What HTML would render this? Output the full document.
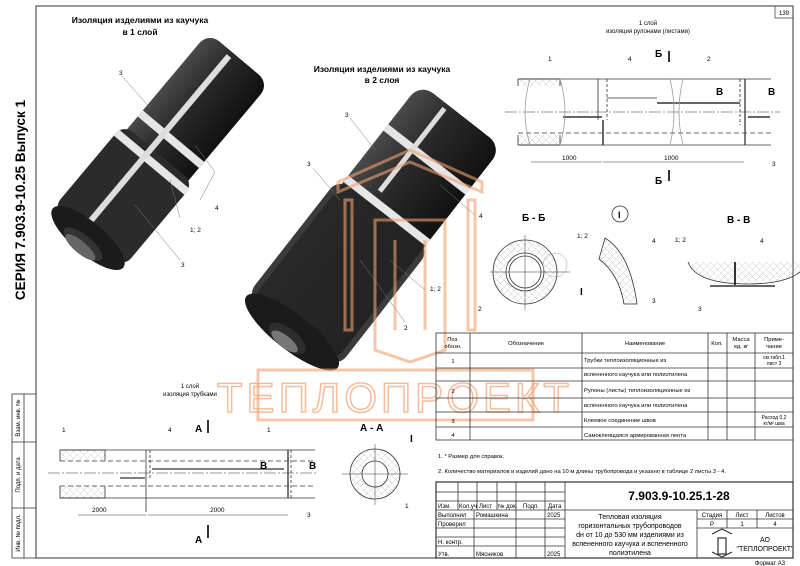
<!DOCTYPE html>
<html><head><meta charset="utf-8"><style>
html,body{margin:0;padding:0;background:#fff}
svg{display:block;font-family:"Liberation Sans",sans-serif}
</style></head><body>
<svg width="800" height="566" viewBox="0 0 800 566" xmlns="http://www.w3.org/2000/svg">
<defs>
<pattern id="h" width="7" height="7" patternUnits="userSpaceOnUse"><path d="M0 0L7 7M7 0L0 7" stroke="#bbb" stroke-width="0.4"/></pattern>
<linearGradient id="g1" x1="0" y1="0" x2="0" y2="1"><stop offset="0" stop-color="#4a4a4a"/><stop offset="0.4" stop-color="#2a2a2a"/><stop offset="1" stop-color="#111"/></linearGradient>
</defs>
<rect width="800" height="566" fill="#fff"/>
<rect x="36" y="6" width="757" height="552" fill="none" stroke="#333" stroke-width="1"/>
<rect x="775" y="6" width="18" height="12" fill="none" stroke="#333" stroke-width="0.7"/>
<text x="784" y="15" font-size="6" text-anchor="middle">139</text>
<text transform="translate(25,200) rotate(-90)" font-size="13.5" font-weight="bold" text-anchor="middle">СЕРИЯ 7.903.9-10.25 Выпуск 1</text>
<g stroke="#333" stroke-width="0.8" fill="none">
<rect x="12" y="394" width="24" height="164"/>
<line x1="24" y1="394" x2="24" y2="558"/>
<line x1="12" y1="442" x2="36" y2="442"/>
<line x1="12" y1="508" x2="36" y2="508"/>
</g>
<g font-size="6">
<text transform="translate(20,418) rotate(-90)" text-anchor="middle">Взам. инв. №</text>
<text transform="translate(20,475) rotate(-90)" text-anchor="middle">Подп. и дата</text>
<text transform="translate(20,533) rotate(-90)" text-anchor="middle">Инв. № подл.</text>
</g>

<text x="140" y="23" font-size="8.5" font-weight="bold" text-anchor="middle">Изоляция изделиями из каучука</text>
<text x="140" y="35" font-size="8.5" font-weight="bold" text-anchor="middle">в 1 слой</text>
<g transform="translate(88,238) rotate(-50)">
<rect x="0" y="-40" width="235" height="80" rx="14" fill="url(#g1)"/>
<rect x="0" y="-46" width="110" height="92" rx="12" fill="#2b2b2b"/>
<rect x="125" y="-40" width="8" height="80" fill="#e6e6e6"/>
<rect x="95" y="-46" width="8" height="92" fill="#e6e6e6"/>
<rect x="10" y="-12" width="220" height="6" fill="#ddd"/>
<ellipse cx="0" cy="0" rx="16" ry="46" fill="#1b1b1b"/>
<ellipse cx="-8" cy="0" rx="9" ry="24" fill="#333"/>
<ellipse cx="-12" cy="0" rx="6" ry="19" fill="#666"/>
</g>
<g stroke="#777" stroke-width="0.5" fill="none">
<path d="M122 76 L150 108"/><path d="M215 172 L195 145 M215 172 L200 200"/>
<path d="M180 218 L170 180"/><path d="M180 260 L135 205"/>
</g>
<g font-size="6.5"><text x="119" y="75">3</text><text x="215" y="210">4</text><text x="190" y="232">1; 2</text><text x="181" y="267">3</text></g>

<text x="382" y="72" font-size="8.5" font-weight="bold" text-anchor="middle">Изоляция изделиями из каучука</text>
<text x="382" y="83" font-size="8.5" font-weight="bold" text-anchor="middle">в 2 слоя</text>
<g transform="translate(292,332) rotate(-52)">
<rect x="0" y="-52" width="275" height="104" rx="16" fill="url(#g1)"/>
<rect x="0" y="-58" width="150" height="116" rx="14" fill="#262626" opacity="0.9"/>
<rect x="150" y="-52" width="8" height="104" fill="#e6e6e6"/>
<rect x="215" y="-52" width="8" height="104" fill="#e6e6e6"/>
<rect x="165" y="-20" width="105" height="5" fill="#ddd"/>
<ellipse cx="0" cy="0" rx="18" ry="58" fill="#1b1b1b"/>
<ellipse cx="-8" cy="0" rx="10" ry="22" fill="#2e2e2e"/>
<ellipse cx="-12" cy="0" rx="6" ry="16" fill="#777"/>
</g>
<g stroke="#777" stroke-width="0.5" fill="none">
<path d="M350 118 L375 150"/><path d="M313 168 L340 200"/><path d="M475 215 L440 185"/>
<path d="M425 290 L390 260"/><path d="M405 322 L360 260"/>
</g>
<g font-size="6.5"><text x="345" y="117">3</text><text x="307" y="166">3</text><text x="479" y="218">4</text><text x="430" y="291">1; 2</text><text x="404" y="330">2</text></g>

<g stroke="#f0a070" fill="none" stroke-width="3" opacity="0.6">
<path d="M338 182 L410 150 L482 182 L482 192 L410 162 L338 192 Z"/>
<path d="M345 200 L345 330 L352 330 L352 200 Z M468 200 L468 330 L475 330 L475 200 Z"/>
<path d="M375 220 L445 220 L445 350 L410 362 L375 350 Z"/>
<path d="M395 240 L395 330 M425 240 L425 330"/>
<rect x="258" y="370" width="275" height="50" stroke-width="3"/>
</g>
<text x="395" y="412" font-size="42" fill="none" stroke="#f0a070" stroke-width="1.5" text-anchor="middle" letter-spacing="4" opacity="0.7">ТЕПЛОПРОЕКТ</text>

<text x="648" y="25" font-size="6" text-anchor="middle">1 слой</text>
<text x="648" y="33" font-size="6" text-anchor="middle">изоляция рулонами (листами)</text>
<g stroke="#333" fill="none" stroke-width="0.8">
<rect x="518" y="79" width="42" height="66" fill="url(#h)"/>
<rect x="512" y="86" width="55" height="49" fill="#fff" stroke="none"/>
<line x1="518" y1="79" x2="771" y2="79"/><line x1="518" y1="145" x2="771" y2="145"/>
<line x1="518" y1="133" x2="771" y2="133" stroke-dasharray="5,3"/>
<line x1="505" y1="112" x2="780" y2="112" stroke-dasharray="12,2,2,2" stroke-width="0.5"/>
<line x1="598" y1="79" x2="598" y2="120"/><line x1="603" y1="120" x2="603" y2="145" stroke-width="1.5"/><line x1="607" y1="79" x2="607" y2="120" stroke-dasharray="3,2"/>
<line x1="745" y1="79" x2="745" y2="145" stroke-width="1.3"/><line x1="740" y1="79" x2="740" y2="125" stroke-dasharray="3,2"/>
<line x1="607" y1="98" x2="657" y2="98"/><line x1="657" y1="103" x2="740" y2="103" stroke-width="1.5"/>
<line x1="563" y1="117" x2="602" y2="117" stroke-width="1.5"/><line x1="748" y1="117" x2="770" y2="117" stroke-width="1.5"/>
<line x1="531" y1="162" x2="602" y2="162" stroke-width="0.5"/><line x1="603" y1="162" x2="744" y2="162" stroke-width="0.5"/>
<path d="M670 79 q8 33 0 66" stroke="#999"/><path d="M683 79 q-8 33 0 66" stroke="#999"/>
<path d="M530 79 q-10 33 0 66" stroke="#999"/><path d="M560 79 q10 33 0 66" stroke="#999"/>
<line x1="669" y1="51" x2="669" y2="62" stroke-width="2"/><line x1="669" y1="170" x2="669" y2="181" stroke-width="2"/>
</g>
<g font-size="6.5"><text x="548" y="61">1</text><text x="628" y="61">4</text><text x="707" y="61">2</text><text x="562" y="160">1000</text><text x="664" y="160">1000</text><text x="772" y="166">3</text></g>
<g font-size="10" font-weight="bold"><text x="655" y="57">Б</text><text x="655" y="184">Б</text><text x="716" y="95">В</text><text x="768" y="95">В</text>
<text x="522" y="221">Б - Б</text><text x="727" y="223">В - В</text></g>
<g stroke="#333" fill="none" stroke-width="0.8">
<circle cx="525" cy="272" r="32" fill="url(#h)"/>
<circle cx="525" cy="272" r="19" fill="#fff"/><circle cx="525" cy="272" r="16"/>
<line x1="490" y1="272" x2="570" y2="272" stroke-width="0.5"/><line x1="525" y1="235" x2="525" y2="310" stroke-width="0.5"/>
<circle cx="555" cy="265" r="12" stroke="#999" stroke-width="0.5"/>
<circle cx="620" cy="214" r="8"/>
<path d="M605 238 q25 15 32 66 l-13 0 q-5 -30 -25 -45 Z" fill="url(#h)"/>
<path d="M688 262 q8 22 60 22 q50 0 60 -22" fill="url(#h)"/>
<line x1="735" y1="262" x2="735" y2="285" stroke-width="2"/>
<line x1="710" y1="286" x2="775" y2="286" stroke-width="1.5"/>
</g>
<g font-size="6.5"><text x="577" y="238">1; 2</text><text x="652" y="243">4</text><text x="652" y="303">3</text><text x="675" y="242">1; 2</text><text x="760" y="243">4</text><text x="698" y="311">3</text><text x="478" y="311">2</text></g>
<text x="580" y="295" font-size="10" font-weight="bold">I</text><text x="618" y="218" font-size="9" font-weight="bold">I</text>

<text x="190" y="388" font-size="6" text-anchor="middle">1 слой</text>
<text x="190" y="396" font-size="6" text-anchor="middle">изоляция трубками</text>
<g stroke="#333" fill="none" stroke-width="0.8">
<rect x="60" y="450" width="45" height="48" fill="url(#h)"/>
<rect x="55" y="461" width="55" height="25" fill="#fff" stroke="none"/>
<line x1="60" y1="450" x2="315" y2="450"/><line x1="60" y1="498" x2="315" y2="498"/>
<line x1="60" y1="461" x2="315" y2="461" stroke-dasharray="5,3"/><line x1="60" y1="486" x2="315" y2="486" stroke-dasharray="5,3"/>
<line x1="48" y1="473" x2="318" y2="473" stroke-dasharray="12,2,2,2" stroke-width="0.5"/>
<line x1="146" y1="450" x2="146" y2="512"/><line x1="150" y1="450" x2="150" y2="480" stroke-dasharray="3,2"/>
<line x1="288" y1="450" x2="288" y2="498" stroke-width="1.3"/><line x1="291" y1="450" x2="291" y2="498" stroke-dasharray="3,2"/>
<line x1="152" y1="469" x2="284" y2="469" stroke-width="1.3"/><line x1="120" y1="478" x2="145" y2="478" stroke-width="1.3"/>
<line x1="78" y1="515" x2="146" y2="515" stroke-width="0.5"/><line x1="148" y1="515" x2="288" y2="515" stroke-width="0.5"/>
<line x1="208" y1="420" x2="208" y2="433" stroke-width="2"/><line x1="208" y1="525" x2="208" y2="538" stroke-width="2"/>
<circle cx="375" cy="474" r="25" fill="url(#h)"/><circle cx="375" cy="474" r="13" fill="#fff"/>
<line x1="342" y1="474" x2="408" y2="474" stroke-width="0.5"/><line x1="375" y1="444" x2="375" y2="505" stroke-width="0.5"/>
</g>
<g font-size="6.5"><text x="62" y="432">1</text><text x="168" y="432">4</text><text x="267" y="432">1</text><text x="92" y="512">2000</text><text x="210" y="512">2000</text><text x="307" y="517">3</text><text x="405" y="508">1</text></g>
<g font-size="10" font-weight="bold"><text x="195" y="432">А</text><text x="195" y="543">А</text><text x="260" y="469">В</text><text x="309" y="469">В</text><text x="360" y="431">А - А</text><text x="410" y="442">I</text></g>

<g stroke="#333" fill="none" stroke-width="0.8">
<rect x="436" y="333" width="357" height="107"/>
<line x1="470" y1="333" x2="470" y2="440"/><line x1="582" y1="333" x2="582" y2="440"/>
<line x1="708" y1="333" x2="708" y2="440"/><line x1="727" y1="333" x2="727" y2="440"/><line x1="755" y1="333" x2="755" y2="440"/>
<line x1="436" y1="353" x2="793" y2="353"/><line x1="436" y1="368" x2="793" y2="368"/><line x1="436" y1="381" x2="793" y2="381"/>
<line x1="436" y1="398" x2="793" y2="398"/><line x1="436" y1="412" x2="793" y2="412"/><line x1="436" y1="427" x2="793" y2="427"/>
</g>
<g font-size="5.8">
<text x="453" y="341" text-anchor="middle">Поз.</text><text x="453" y="348" text-anchor="middle">обозн.</text>
<text x="526" y="345" text-anchor="middle">Обозначение</text><text x="645" y="345" text-anchor="middle">Наименование</text>
<text x="717" y="345" text-anchor="middle">Кол.</text><text x="741" y="341" text-anchor="middle">Масса</text><text x="741" y="348" text-anchor="middle">ед. кг</text>
<text x="774" y="341" text-anchor="middle">Приме-</text><text x="774" y="348" text-anchor="middle">чание</text>
<text x="453" y="363" text-anchor="middle">1</text><text x="453" y="393" text-anchor="middle">2</text><text x="453" y="423" text-anchor="middle">3</text><text x="453" y="437" text-anchor="middle">4</text>
<text x="584" y="362">Трубки теплоизоляционные из</text><text x="584" y="376">вспененного каучука или полиэтилена</text>
<text x="584" y="392">Рулоны (листы) теплоизоляционные из</text><text x="584" y="407">вспененного каучука или полиэтилена</text>
<text x="584" y="422">Клеевое соединение швов</text><text x="584" y="437">Самоклеящаяся армированная лента</text>
<text x="774" y="359" text-anchor="middle" font-size="5">см.табл.1</text><text x="774" y="365" text-anchor="middle" font-size="5">лист 3</text>
<text x="774" y="419" text-anchor="middle" font-size="5">Расход 0,2</text><text x="774" y="425" text-anchor="middle" font-size="5">кг/м² шва</text>
<text x="438" y="458">1. * Размер для справок.</text>
<text x="438" y="473">2. Количество материалов и изделий дано на 10 м длины трубопровода и указано в таблице 2 листы 3 - 4.</text>
</g>
<g stroke="#333" fill="none" stroke-width="0.8">
<rect x="436" y="482" width="357" height="76" stroke-width="1.2"/>
<line x1="565" y1="482" x2="565" y2="558"/>
<line x1="458" y1="482" x2="458" y2="510"/><line x1="477" y1="482" x2="477" y2="510"/><line x1="497" y1="482" x2="497" y2="510"/>
<line x1="516" y1="482" x2="516" y2="558"/><line x1="545" y1="482" x2="545" y2="558"/><line x1="474" y1="510" x2="474" y2="558"/>
<line x1="436" y1="492" x2="565" y2="492"/><line x1="436" y1="501" x2="565" y2="501"/><line x1="436" y1="510" x2="793" y2="510"/>
<line x1="436" y1="519" x2="565" y2="519"/><line x1="436" y1="528" x2="565" y2="528"/><line x1="436" y1="537" x2="565" y2="537"/><line x1="436" y1="546" x2="565" y2="546"/>
<line x1="697" y1="510" x2="697" y2="558"/><line x1="727" y1="510" x2="727" y2="528"/><line x1="757" y1="510" x2="757" y2="528"/>
<line x1="697" y1="519" x2="793" y2="519"/><line x1="697" y1="528" x2="793" y2="528"/>
<path d="M712 534 l10 -5 l10 5 M712 552 l10 5 l10 -5 M718 538 h8 v16 h-8 Z" stroke-width="1.2"/>
</g>
<g font-size="6">
<text x="438" y="508">Изм.</text><text x="459" y="508">Кол.уч</text><text x="479" y="508">Лист</text><text x="498" y="508">№ док.</text><text x="523" y="508">Подп.</text><text x="548" y="508">Дата</text>
<text x="438" y="517">Выполнил</text><text x="476" y="517">Ромашкина</text><text x="547" y="517">2025</text>
<text x="438" y="526">Проверил</text><text x="438" y="544">Н. контр.</text><text x="438" y="556">Утв.</text><text x="476" y="556">Мясников</text><text x="547" y="556">2025</text>
<text x="630" y="519" text-anchor="middle" font-size="7">Тепловая изоляция</text>
<text x="630" y="528" text-anchor="middle" font-size="7">горизонтальных трубопроводов</text>
<text x="630" y="537" text-anchor="middle" font-size="7">dн от 10 до 530 мм изделиями из</text>
<text x="630" y="546" text-anchor="middle" font-size="7">вспененного каучука и вспененного</text>
<text x="630" y="555" text-anchor="middle" font-size="7">полиэтилена</text>
<text x="712" y="517" text-anchor="middle">Стадия</text><text x="742" y="517" text-anchor="middle">Лист</text><text x="775" y="517" text-anchor="middle">Листов</text>
<text x="712" y="526" text-anchor="middle">Р</text><text x="742" y="526" text-anchor="middle">1</text><text x="775" y="526" text-anchor="middle">4</text>
<text x="765" y="542" text-anchor="middle" font-size="7">АО</text><text x="765" y="551" text-anchor="middle" font-size="7">"ТЕПЛОПРОЕКТ"</text>
<text x="770" y="565" text-anchor="middle" font-size="6">Формат А3</text>
</g>
<text x="679" y="500" font-size="12" font-weight="bold" text-anchor="middle">7.903.9-10.25.1-28</text>
</svg>
</body></html>
